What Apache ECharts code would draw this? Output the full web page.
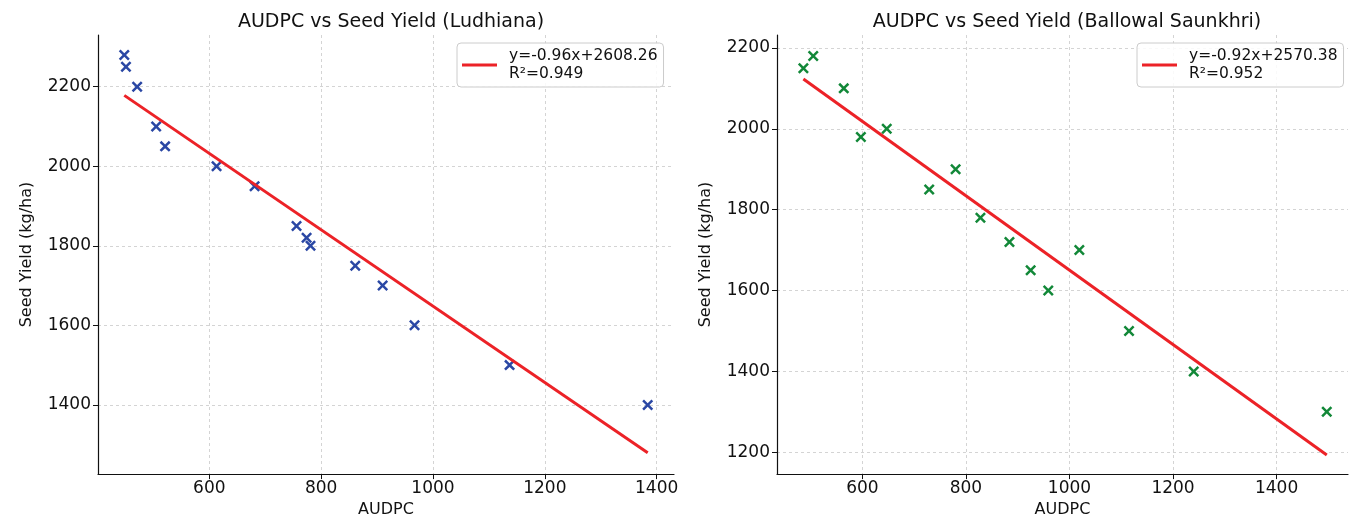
<!DOCTYPE html>
<html>
<head>
<meta charset="utf-8">
<script src="https://cdn.jsdelivr.net/npm/echarts@6/dist/echarts.min.js"></script>
<style>
html,body{margin:0;padding:0;background:#fff;}
#c{width:1353px;height:523px;}
</style>
</head>
<body>
<div id="c"></div>
<script>
// Ludhiana
const ludAUDPC = [448, 451, 471, 505, 521, 613, 681, 756, 774, 781, 861, 910, 967, 1137, 1384];
const ludYield = [2280, 2250, 2200, 2100, 2050, 2000, 1950, 1850, 1820, 1800, 1750, 1700, 1600, 1500, 1400];
const ludFitX = [448, 1384];
const ludFitY = [2178.2, 1279.6];
const ludLegend = ['y=-0.96x+2608.26', 'R²=0.949'];

// Ballowal Saunkhri
const balAUDPC = [486, 505, 564, 597, 647, 729, 780, 828, 884, 925, 959, 1019, 1115, 1240, 1497];
const balYield = [2150, 2180, 2100, 1980, 2000, 1850, 1900, 1780, 1720, 1650, 1600, 1700, 1500, 1400, 1300];
const balFitX = [486, 1497];
const balFitY = [2123.3, 1193.1];
const balLegend = ['y=-0.92x+2570.38', 'R²=0.952'];

const titles = ['AUDPC vs Seed Yield (Ludhiana)', 'AUDPC vs Seed Yield (Ballowal Saunkhri)'];
const xTicks = [600, 800, 1000, 1200, 1400];
const yTicksL = [1400, 1600, 1800, 2000, 2200];
const yTicksR = [1200, 1400, 1600, 1800, 2000, 2200];

const FONT = 'DejaVu Sans';
const xSym = 'path://M0,16L16,0L50,34L84,0L100,16L66,50L100,84L84,100L50,66L16,100L0,84L34,50Z';

function pairs(xs, ys){ return xs.map((x,i)=>[x, ys[i]]); }
const plain = v => String(v);

function xAxis(gi, min, max){
  return {
    type:'value', gridIndex:gi, min:min, max:max,
    name:'AUDPC', nameLocation:'middle', nameGap:26,
    nameTextStyle:{fontFamily:FONT, fontSize:16, color:'#111'},
    axisLine:{show:true, lineStyle:{color:'#111', width:1.2}},
    axisTick:{show:true, inside:false, length:5, customValues:xTicks, lineStyle:{color:'#111', width:1}},
    axisLabel:{customValues:xTicks, formatter:plain, margin:6, fontFamily:FONT, fontSize:17, color:'#111'},
    splitLine:{show:true, lineStyle:{color:'#d4d4d4', type:[3,3], width:1}}
  };
}
function yAxis(gi, min, max, ticks){
  return {
    type:'value', gridIndex:gi, min:min, max:max,
    name:'Seed Yield (kg/ha)', nameLocation:'middle', nameGap:63,
    nameTextStyle:{fontFamily:FONT, fontSize:16, color:'#111'},
    axisLine:{show:true, lineStyle:{color:'#111', width:1.2}},
    axisTick:{show:true, inside:false, length:5, customValues:ticks, lineStyle:{color:'#111', width:1}},
    axisLabel:{customValues:ticks, formatter:plain, margin:7, fontFamily:FONT, fontSize:17, color:'#111'},
    splitLine:{show:true, lineStyle:{color:'#d4d4d4', type:[3,3], width:1}}
  };
}
function legend(left, names){
  return {
    left:left, top:43, orient:'vertical',
    data:[names.join('\n')],
    itemWidth:35, itemHeight:14, itemGap:0,
    padding:[4,6,4,5],
    borderColor:'#cccccc', borderWidth:1, borderRadius:4,
    backgroundColor:'rgba(255,255,255,0.85)',
    textStyle:{fontFamily:FONT, fontSize:15.5, lineHeight:18, color:'#111', padding:[0,0,0,7]},
    icon:'path://M0,0L100,0L100,8L0,8Z'
  };
}

const chart = echarts.init(document.getElementById('c'), null, {renderer:'canvas'});
chart.setOption({
  animation:false,
  backgroundColor:'#ffffff',
  title:[
    {text:titles[0], left:386, top:8, textAlign:'center', textStyle:{fontFamily:FONT, fontSize:19, fontWeight:'normal', color:'#111'}},
    {text:titles[1], left:1062, top:8, textAlign:'center', textStyle:{fontFamily:FONT, fontSize:19, fontWeight:'normal', color:'#111'}}
  ],
  grid:[
    {left:98, top:35, width:576, height:442, containLabel:false},
    {left:777, top:35, width:571, height:442, containLabel:false}
  ],
  xAxis:[ xAxis(0, 401, 1431), xAxis(1, 435, 1538) ],
  yAxis:[ yAxis(0, 1226, 2330, yTicksL), yAxis(1, 1146, 2232, yTicksR) ],
  legend:[ legend(457, ludLegend), legend(1137, balLegend) ],
  series:[
    {type:'scatter', name:'Ludhiana', xAxisIndex:0, yAxisIndex:0, data:pairs(ludAUDPC, ludYield),
     symbol:xSym, symbolSize:11, itemStyle:{color:'#2a47a4', opacity:1}, z:3},
    {type:'line', name:ludLegend.join('\n'), xAxisIndex:0, yAxisIndex:0, data:pairs(ludFitX, ludFitY),
     symbol:'none', lineStyle:{color:'#ec2227', width:3}, itemStyle:{color:'#ec2227'}, z:4},
    {type:'scatter', name:'Ballowal', xAxisIndex:1, yAxisIndex:1, data:pairs(balAUDPC, balYield),
     symbol:xSym, symbolSize:11, itemStyle:{color:'#128838', opacity:1}, z:3},
    {type:'line', name:balLegend.join('\n'), xAxisIndex:1, yAxisIndex:1, data:pairs(balFitX, balFitY),
     symbol:'none', lineStyle:{color:'#ec2227', width:3}, itemStyle:{color:'#ec2227'}, z:4}
  ]
});
</script>
</body>
</html>
